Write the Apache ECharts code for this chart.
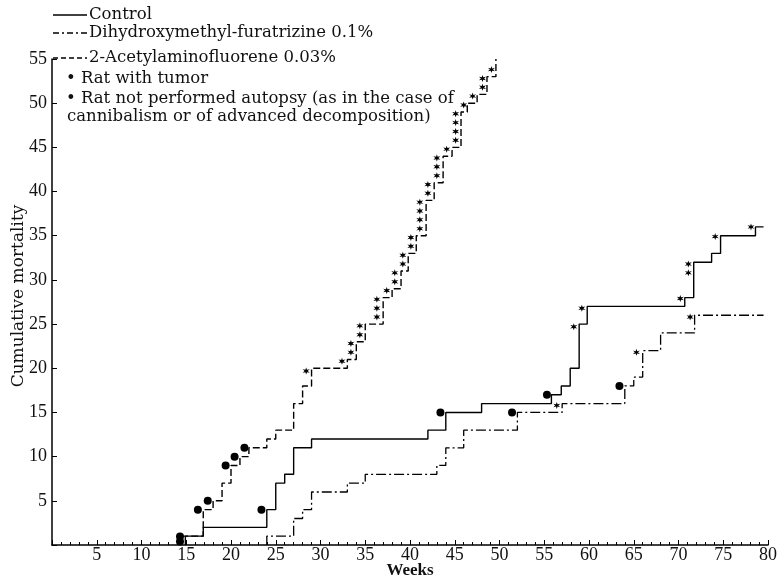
<!DOCTYPE html>
<html>
<head>
<meta charset="utf-8">
<script src="https://cdn.jsdelivr.net/npm/echarts@6/dist/echarts.min.js"></script>
<style>
  html, body { margin: 0; padding: 0; background: #fff; }
  #mortality-chart { width: 778px; height: 577px; }
</style>
</head>
<body>
<div id="mortality-chart"></div>
<script>
// step weeks and cumulative counts after each step
const controlWeeks = [14.9, 16.9, 24, 25, 26, 27, 29, 42, 44, 48, 55.8, 56.9, 57.9, 58.9, 59.8, 70.7, 71.7, 73.7, 74.7, 78.6, 79.5]
const controlCounts = [1, 2, 4, 7, 8, 11, 12, 13, 15, 16, 17, 18, 20, 25, 27, 28, 32, 33, 35, 36, 36]

const dhmfWeeks = [24, 27, 28, 29, 33, 35, 43, 44, 46, 52, 57, 64, 65, 66, 68, 71.8, 79.5]
const dhmfCounts = [1, 3, 4, 6, 7, 8, 9, 11, 13, 15, 16, 18, 19, 22, 24, 26, 26]

const aafWeeks = [14.3, 16.9, 18, 19, 20, 21, 22, 24, 25, 27, 28, 29, 33, 34, 35, 37, 38, 39, 39.8, 40.7, 41.8, 42.7, 43.7, 44.7, 45.7, 46.4, 47.5, 48.6, 49.6]
const aafCounts = [1, 4, 5, 7, 9, 10, 11, 12, 13, 16, 18, 20, 21, 23, 25, 28, 29, 31, 33, 35, 39, 41, 44, 45, 49, 50, 51, 53, 55]

// rat with tumor (*)
const tumorMarks = [
  [28.4, 19.7], [32.4, 20.8], [33.4, 21.8], [33.4, 22.8], [34.4, 23.8], [34.4, 24.8],
  [36.3, 25.8], [36.3, 26.8], [36.3, 27.8], [37.4, 28.8], [38.3, 29.8], [38.3, 30.8],
  [39.2, 31.8], [39.2, 32.8], [40.1, 33.8], [40.1, 34.8], [41.1, 35.8], [41.1, 36.8],
  [41.1, 37.8], [41.1, 38.8], [42.0, 39.8], [42.0, 40.8], [43.0, 41.8], [43.0, 42.8],
  [43.0, 43.8], [44.1, 44.8], [45.1, 45.8], [45.1, 46.8], [45.1, 47.8], [45.1, 48.8],
  [46.0, 49.8], [47.0, 50.8], [48.1, 51.8], [48.1, 52.8], [49.1, 53.8],
  [58.3, 24.7], [59.2, 26.8], [70.2, 27.9], [71.1, 30.8], [71.1, 31.8], [74.1, 34.9], [78.1, 36.0],
  [56.4, 15.8], [65.3, 21.8], [71.3, 25.8]
]

// rat not performed autopsy (•)
const noAutopsyMarks = [
  [14.3, 0.95], [14.3, 0.4], [16.3, 4], [17.4, 5], [19.4, 9], [20.4, 10], [21.5, 11],
  [23.4, 4], [43.4, 15], [55.3, 17], [51.4, 15], [63.4, 18]
]

const weekTicks = [5, 10, 15, 20, 25, 30, 35, 40, 45, 50, 55, 60, 65, 70, 75, 80]

const steps = (weeks, counts) => [[weeks[0], 0]].concat(weeks.map((w, i) => [w, counts[i]]))

const chartDom = document.getElementById('mortality-chart')
const myChart = echarts.init(chartDom, null, { renderer: 'canvas' })

const serif = '"Liberation Serif", "DejaVu Serif", serif'
const legendFont = '"DejaVu Serif", "Liberation Serif", serif'
const star = 'path://M10 0L12 6.54L18.66 5L14 10L18.66 15L12 13.46L10 20L8 13.46L1.34 15L6 10L1.34 5L8 6.54Z'

const legendRow = (y, dash, label) => [
  {
    type: 'line',
    shape: { x1: 53, y1: y, x2: 87, y2: y },
    style: { stroke: '#000', lineWidth: 1.3, lineDash: dash }
  },
  {
    type: 'text',
    x: 89, y: y,
    style: { text: label, font: '16.5px ' + legendFont, fill: '#111', textVerticalAlign: 'middle' }
  }
]

const option = {
  animation: false,
  backgroundColor: '#fff',
  grid: { left: 52, right: 10, top: 59, bottom: 32, outerBoundsMode: 'none', containLabel: false },
  xAxis: {
    type: 'value',
    min: 0,
    max: 80,
    interval: 5,
    name: 'Weeks',
    nameLocation: 'middle',
    nameGap: 17,
    nameMoveOverlap: false,
    nameTextStyle: { fontFamily: serif, fontSize: 17, fontWeight: 'bold', color: '#111' },
    axisLine: { lineStyle: { color: '#000', width: 1.5 } },
    axisTick: { inside: true, length: 5, lineStyle: { color: '#000' } },
    minorTick: { show: true, splitNumber: 5, length: 3, lineStyle: { color: '#000' } },
    splitLine: { show: false },
    axisLabel: {
      margin: 1,
      fontFamily: serif,
      fontSize: 18,
      color: '#111',
      formatter: v => weekTicks.includes(v) ? String(v) : ''
    }
  },
  yAxis: {
    type: 'value',
    min: 0,
    max: 55,
    interval: 5,
    axisLine: { show: true, lineStyle: { color: '#000', width: 1.5 } },
    axisTick: { show: true, inside: true, length: 5, lineStyle: { color: '#000' } },
    splitLine: { show: false },
    axisLabel: {
      margin: 5,
      fontFamily: serif,
      fontSize: 18,
      color: '#111',
      formatter: v => v === 0 ? '' : String(v)
    }
  },
  graphic: [
    ...legendRow(15, null, 'Control'),
    ...legendRow(33, [6, 3, 2, 3], 'Dihydroxymethyl-furatrizine 0.1%'),
    ...legendRow(58, [5, 3], '2-Acetylaminofluorene 0.03%'),
    {
      type: 'text', x: 66, y: 79,
      style: { text: '• Rat with tumor', font: '16.5px ' + legendFont, fill: '#111', textVerticalAlign: 'middle' }
    },
    {
      type: 'text', x: 66, y: 99,
      style: { text: '• Rat not performed autopsy (as in the case of', font: '16.5px ' + legendFont, fill: '#111', textVerticalAlign: 'middle' }
    },
    {
      type: 'text', x: 67, y: 117,
      style: { text: 'cannibalism or of advanced decomposition)', font: '16.5px ' + legendFont, fill: '#111', textVerticalAlign: 'middle' }
    },
    {
      type: 'text', x: 19, y: 296, rotation: Math.PI / 2,
      style: { text: 'Cumulative mortality', font: '17px ' + legendFont, fill: '#111', textAlign: 'center', textVerticalAlign: 'middle' }
    }
  ],
  series: [
    {
      name: 'Control',
      type: 'line',
      step: 'end',
      symbol: 'none',
      data: steps(controlWeeks, controlCounts),
      lineStyle: { color: '#000', width: 1.4, type: 'solid' },
      z: 3
    },
    {
      name: 'Dihydroxymethyl-furatrizine 0.1%',
      type: 'line',
      step: 'end',
      symbol: 'none',
      data: steps(dhmfWeeks, dhmfCounts),
      lineStyle: { color: '#000', width: 1.3, type: [10, 3, 2, 3] },
      z: 2
    },
    {
      name: '2-Acetylaminofluorene 0.03%',
      type: 'line',
      step: 'end',
      symbol: 'none',
      data: steps(aafWeeks, aafCounts),
      lineStyle: { color: '#000', width: 1.4, type: [7, 3] },
      z: 2
    },
    {
      name: 'Rat with tumor',
      type: 'scatter',
      symbol: star,
      symbolSize: 7,
      data: tumorMarks,
      itemStyle: { color: '#000', opacity: 1 },
      z: 4
    },
    {
      name: 'Rat not performed autopsy',
      type: 'scatter',
      symbol: 'circle',
      symbolSize: 8,
      data: noAutopsyMarks,
      itemStyle: { color: '#000', opacity: 1 },
      z: 4
    }
  ]
}

option && myChart.setOption(option)
</script>
</body>
</html>
